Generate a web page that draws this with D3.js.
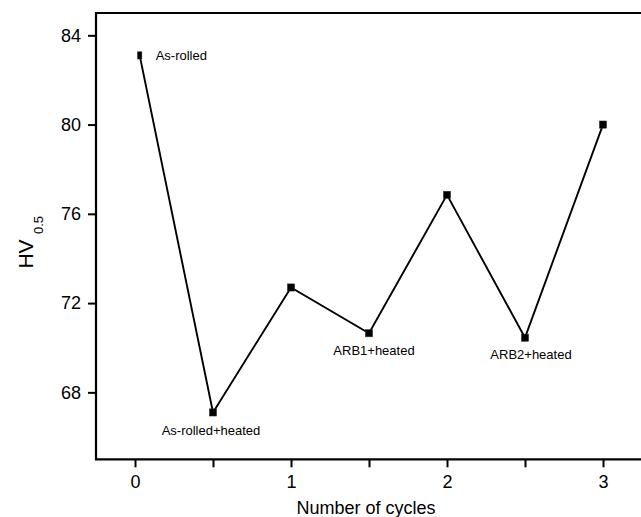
<!DOCTYPE html>
<html>
<head>
<meta charset="utf-8">
<script src="https://cdn.jsdelivr.net/npm/d3@7"></script>
<style>
  body { margin: 0; background: #fff; }
  svg { display: block; font-family: 'Liberation Sans', Arial, sans-serif; }
</style>
</head>
<body>
<div id="chart"></div>
<script>
// values
var cycles = [0.03, 0.5, 1, 1.5, 2, 2.5, 3]
var hardness = [83.1, 67.1, 72.7, 70.65, 76.85, 70.45, 80.0]
var pointLabels = ['As-rolled', 'As-rolled+heated', '', 'ARB1+heated', '', 'ARB2+heated', '']
var xTicks = [0, 0.5, 1, 1.5, 2, 2.5, 3]
var yTicks = [68, 72, 76, 80, 84]

var W = 641
var H = 517
var frame = { left: 96, top: 13, right: 642, bottom: 459.3 }

var svg = d3.select('#chart').append('svg')
  .attr('width', W)
  .attr('height', H)

var x = d3.scaleLinear().domain([-0.25, 3.25]).range([frame.left, frame.right])
var y = d3.scaleLinear().domain([65, 85]).range([frame.bottom, frame.top])

// axes
var xAxis = d3.axisBottom(x)
  .tickValues(xTicks)
  .tickSize(8)
  .tickPadding(8)
  .tickFormat(function (d) { return d % 1 === 0 ? d3.format('d')(d) : '' })

var yAxis = d3.axisLeft(y)
  .tickValues(yTicks)
  .tickSize(8)
  .tickPadding(7)

var gx = svg.append('g')
  .attr('transform', 'translate(0,' + frame.bottom + ')')
  .call(xAxis)
var gy = svg.append('g')
  .attr('transform', 'translate(' + frame.left + ',0)')
  .call(yAxis)

;[gx, gy].forEach(function (g) {
  g.select('.domain').remove()
  g.selectAll('.tick line').attr('stroke', '#000').attr('stroke-width', 2)
  g.selectAll('.tick text')
    .attr('fill', '#000')
    .style('font-size', '18px')
    .style('font-family', "'Liberation Sans', Arial, sans-serif")
})

// frame (right side falls outside the picture)
svg.append('path')
  .attr('d', 'M' + frame.right + ',' + frame.top + 'H' + frame.left + 'V' + frame.bottom + 'H' + frame.right)
  .attr('fill', 'none')
  .attr('stroke', '#000')
  .attr('stroke-width', 2.2)

// data line
var pts = cycles.map(function (c, i) { return { c: c, v: hardness[i], label: pointLabels[i] } })

svg.append('path')
  .datum(pts)
  .attr('fill', 'none')
  .attr('stroke', '#000')
  .attr('stroke-width', 1.9)
  .attr('d', d3.line()
    .x(function (d) { return x(d.c) })
    .y(function (d) { return y(d.v) }))

// markers, the first one is narrower in the original
svg.append('g').selectAll('rect')
  .data(pts)
  .enter()
  .append('rect')
  .attr('x', function (d, i) { return x(d.c) - (i === 0 ? 2.2 : 3.6) })
  .attr('y', function (d) { return y(d.v) - 3.6 })
  .attr('width', function (d, i) { return i === 0 ? 4.4 : 7.2 })
  .attr('height', 7.2)
  .attr('fill', '#000')
  .attr('stroke', '#333')
  .attr('stroke-width', 0.5)

// point annotations
var labelOffsets = [[16, 0, 'start'], [-2, 18, 'middle'], [0, 0, 'middle'], [5, 17.5, 'middle'], [0, 0, 'middle'], [6, 17, 'middle'], [0, 0, 'middle']]
svg.append('g').selectAll('text')
  .data(pts)
  .enter()
  .append('text')
  .attr('x', function (d, i) { return x(d.c) + labelOffsets[i][0] })
  .attr('y', function (d, i) { return y(d.v) + labelOffsets[i][1] })
  .attr('dy', '0.35em')
  .attr('text-anchor', function (d, i) { return labelOffsets[i][2] })
  .style('font-size', '13px')
  .attr('fill', '#000')
  .text(function (d) { return d.label })

// axis titles
svg.append('text')
  .attr('x', (frame.left + frame.right) / 2 - 3)
  .attr('y', 514)
  .attr('text-anchor', 'middle')
  .style('font-size', '18px')
  .attr('fill', '#000')
  .text('Number of cycles')

svg.append('text')
  .attr('transform', 'translate(33,254) rotate(-90)')
  .attr('text-anchor', 'middle')
  .style('font-size', '21px')
  .attr('fill', '#000')
  .text('HV')

svg.append('text')
  .attr('transform', 'translate(43,225) rotate(-90)')
  .attr('text-anchor', 'middle')
  .style('font-size', '13px')
  .attr('fill', '#000')
  .text('0.5')
</script>
</body>
</html>
